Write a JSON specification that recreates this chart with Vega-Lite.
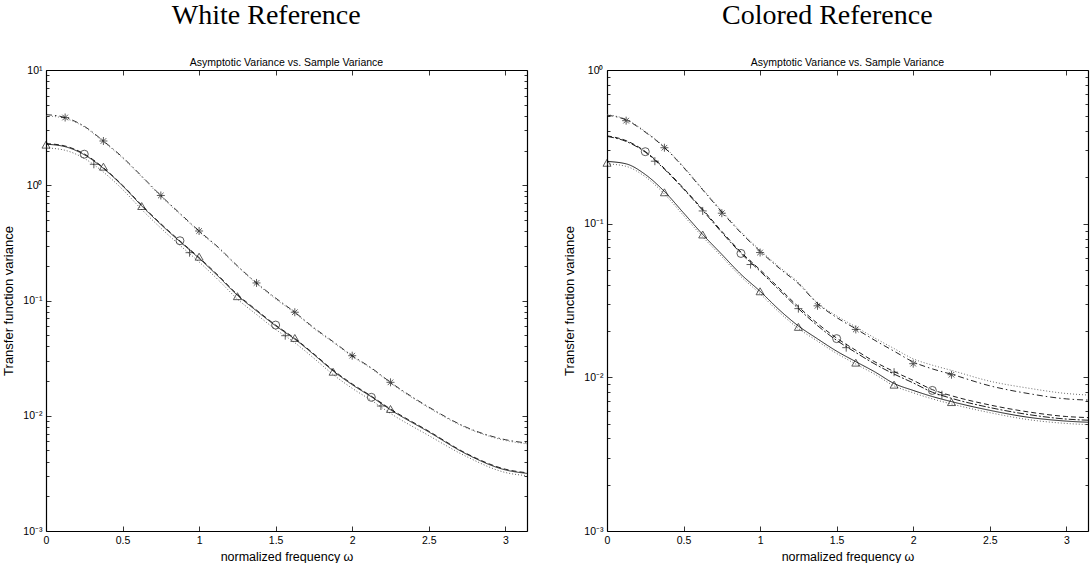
{
"$schema": "https://vega.github.io/schema/vega-lite/v6.json",
"padding": {"left": 2, "top": 1, "right": 0, "bottom": 0},
"background": "white",
"config": {
  "view": {"stroke": null},
  "axis": {"domainColor": "black", "tickColor": "black", "labelColor": "black", "titleColor": "black", "labelFont": "Liberation Sans", "titleFont": "Liberation Sans", "labelFontSize": 10.5, "titleFontSize": 12.5, "titleFontWeight": "normal", "grid": false, "domainWidth": 1.2, "tickWidth": 0.8, "labelFlush": false, "labelOverlap": false, "labelBound": false}
},
"datasets": {
"lines": [
{"p":"L","s":"LA","w":0,"v":4.1},{"p":"L","s":"LA","w":0.125,"v":3.87},{"p":"L","s":"LA","w":0.25,"v":3.25},{"p":"L","s":"LA","w":0.375,"v":2.42},{"p":"L","s":"LA","w":0.5,"v":1.75},{"p":"L","s":"LA","w":0.625,"v":1.2},{"p":"L","s":"LA","w":0.75,"v":0.815},{"p":"L","s":"LA","w":0.875,"v":0.57},{"p":"L","s":"LA","w":1,"v":0.401},{"p":"L","s":"LA","w":1.125,"v":0.29},{"p":"L","s":"LA","w":1.25,"v":0.2},{"p":"L","s":"LA","w":1.375,"v":0.142},{"p":"L","s":"LA","w":1.5,"v":0.105},{"p":"L","s":"LA","w":1.625,"v":0.0791},{"p":"L","s":"LA","w":1.75,"v":0.058},{"p":"L","s":"LA","w":1.875,"v":0.044},{"p":"L","s":"LA","w":2,"v":0.0332},{"p":"L","s":"LA","w":2.125,"v":0.026},{"p":"L","s":"LA","w":2.25,"v":0.0195},{"p":"L","s":"LA","w":2.5,"v":0.0119},{"p":"L","s":"LA","w":2.75,"v":0.0079},{"p":"L","s":"LA","w":3,"v":0.0062},{"p":"L","s":"LA","w":3.1416,"v":0.0058},
{"p":"L","s":"LA2","w":0,"v":4.0},{"p":"L","s":"LA2","w":0.125,"v":3.8},{"p":"L","s":"LA2","w":0.25,"v":3.2},{"p":"L","s":"LA2","w":0.375,"v":2.38},{"p":"L","s":"LA2","w":0.5,"v":1.72},{"p":"L","s":"LA2","w":0.625,"v":1.18},{"p":"L","s":"LA2","w":0.75,"v":0.8},{"p":"L","s":"LA2","w":0.875,"v":0.56},{"p":"L","s":"LA2","w":1,"v":0.394},{"p":"L","s":"LA2","w":1.125,"v":0.285},{"p":"L","s":"LA2","w":1.25,"v":0.197},{"p":"L","s":"LA2","w":1.375,"v":0.14},{"p":"L","s":"LA2","w":1.5,"v":0.103},{"p":"L","s":"LA2","w":1.625,"v":0.0778},{"p":"L","s":"LA2","w":1.75,"v":0.057},{"p":"L","s":"LA2","w":1.875,"v":0.0433},{"p":"L","s":"LA2","w":2,"v":0.0327},{"p":"L","s":"LA2","w":2.125,"v":0.0256},{"p":"L","s":"LA2","w":2.25,"v":0.0192},{"p":"L","s":"LA2","w":2.5,"v":0.0117},{"p":"L","s":"LA2","w":2.75,"v":0.0078},{"p":"L","s":"LA2","w":3,"v":0.0061},{"p":"L","s":"LA2","w":3.1416,"v":0.0057},
{"p":"L","s":"LB","w":0,"v":2.27},{"p":"L","s":"LB","w":0.125,"v":2.16},{"p":"L","s":"LB","w":0.25,"v":1.84},{"p":"L","s":"LB","w":0.375,"v":1.40},{"p":"L","s":"LB","w":0.5,"v":0.989},{"p":"L","s":"LB","w":0.625,"v":0.662},{"p":"L","s":"LB","w":0.75,"v":0.457},{"p":"L","s":"LB","w":0.875,"v":0.324},{"p":"L","s":"LB","w":1,"v":0.232},{"p":"L","s":"LB","w":1.125,"v":0.162},{"p":"L","s":"LB","w":1.25,"v":0.111},{"p":"L","s":"LB","w":1.375,"v":0.0813},{"p":"L","s":"LB","w":1.5,"v":0.0603},{"p":"L","s":"LB","w":1.625,"v":0.0462},{"p":"L","s":"LB","w":1.75,"v":0.0339},{"p":"L","s":"LB","w":1.875,"v":0.0245},{"p":"L","s":"LB","w":2,"v":0.0186},{"p":"L","s":"LB","w":2.125,"v":0.0146},{"p":"L","s":"LB","w":2.25,"v":0.01127},{"p":"L","s":"LB","w":2.5,"v":0.00724},{"p":"L","s":"LB","w":2.75,"v":0.00462},{"p":"L","s":"LB","w":3,"v":0.00339},{"p":"L","s":"LB","w":3.1416,"v":0.00316},
{"p":"L","s":"LC","w":0,"v":2.30},{"p":"L","s":"LC","w":0.125,"v":2.19},{"p":"L","s":"LC","w":0.25,"v":1.87},{"p":"L","s":"LC","w":0.375,"v":1.42},{"p":"L","s":"LC","w":0.5,"v":1.0},{"p":"L","s":"LC","w":0.625,"v":0.672},{"p":"L","s":"LC","w":0.75,"v":0.464},{"p":"L","s":"LC","w":0.875,"v":0.329},{"p":"L","s":"LC","w":1,"v":0.236},{"p":"L","s":"LC","w":1.125,"v":0.165},{"p":"L","s":"LC","w":1.25,"v":0.113},{"p":"L","s":"LC","w":1.375,"v":0.0826},{"p":"L","s":"LC","w":1.5,"v":0.0612},{"p":"L","s":"LC","w":1.625,"v":0.0469},{"p":"L","s":"LC","w":1.75,"v":0.0344},{"p":"L","s":"LC","w":1.875,"v":0.0249},{"p":"L","s":"LC","w":2,"v":0.0189},{"p":"L","s":"LC","w":2.125,"v":0.0148},{"p":"L","s":"LC","w":2.25,"v":0.01145},{"p":"L","s":"LC","w":2.5,"v":0.00735},{"p":"L","s":"LC","w":2.75,"v":0.00468},{"p":"L","s":"LC","w":3,"v":0.00344},{"p":"L","s":"LC","w":3.1416,"v":0.0032},
{"p":"L","s":"LD","w":0,"v":2.11},{"p":"L","s":"LD","w":0.125,"v":2.01},{"p":"L","s":"LD","w":0.25,"v":1.71},{"p":"L","s":"LD","w":0.375,"v":1.30},{"p":"L","s":"LD","w":0.5,"v":0.92},{"p":"L","s":"LD","w":0.625,"v":0.616},{"p":"L","s":"LD","w":0.75,"v":0.425},{"p":"L","s":"LD","w":0.875,"v":0.301},{"p":"L","s":"LD","w":1,"v":0.216},{"p":"L","s":"LD","w":1.125,"v":0.151},{"p":"L","s":"LD","w":1.25,"v":0.103},{"p":"L","s":"LD","w":1.375,"v":0.0756},{"p":"L","s":"LD","w":1.5,"v":0.0561},{"p":"L","s":"LD","w":1.625,"v":0.043},{"p":"L","s":"LD","w":1.75,"v":0.0315},{"p":"L","s":"LD","w":1.875,"v":0.0228},{"p":"L","s":"LD","w":2,"v":0.0173},{"p":"L","s":"LD","w":2.125,"v":0.0136},{"p":"L","s":"LD","w":2.25,"v":0.01048},{"p":"L","s":"LD","w":2.5,"v":0.00673},{"p":"L","s":"LD","w":2.75,"v":0.0044},{"p":"L","s":"LD","w":3,"v":0.00322},{"p":"L","s":"LD","w":3.1416,"v":0.00302},
{"p":"R","s":"RA","w":0,"v":0.509},{"p":"R","s":"RA","w":0.125,"v":0.473},{"p":"R","s":"RA","w":0.25,"v":0.394},{"p":"R","s":"RA","w":0.375,"v":0.313},{"p":"R","s":"RA","w":0.5,"v":0.232},{"p":"R","s":"RA","w":0.625,"v":0.166},{"p":"R","s":"RA","w":0.75,"v":0.119},{"p":"R","s":"RA","w":0.875,"v":0.0871},{"p":"R","s":"RA","w":1,"v":0.0661},{"p":"R","s":"RA","w":1.125,"v":0.0513},{"p":"R","s":"RA","w":1.25,"v":0.0407},{"p":"R","s":"RA","w":1.375,"v":0.0302},{"p":"R","s":"RA","w":1.5,"v":0.0245},{"p":"R","s":"RA","w":1.625,"v":0.0207},{"p":"R","s":"RA","w":1.75,"v":0.0174},{"p":"R","s":"RA","w":1.875,"v":0.0148},{"p":"R","s":"RA","w":2,"v":0.0126},{"p":"R","s":"RA","w":2.125,"v":0.01135},{"p":"R","s":"RA","w":2.25,"v":0.01047},{"p":"R","s":"RA","w":2.5,"v":0.00881},{"p":"R","s":"RA","w":2.75,"v":0.00785},{"p":"R","s":"RA","w":3,"v":0.00724},{"p":"R","s":"RA","w":3.1416,"v":0.00711},
{"p":"R","s":"RA2","w":0,"v":0.512},{"p":"R","s":"RA2","w":0.125,"v":0.477},{"p":"R","s":"RA2","w":0.25,"v":0.398},{"p":"R","s":"RA2","w":0.375,"v":0.316},{"p":"R","s":"RA2","w":0.5,"v":0.235},{"p":"R","s":"RA2","w":0.625,"v":0.168},{"p":"R","s":"RA2","w":0.75,"v":0.121},{"p":"R","s":"RA2","w":0.875,"v":0.0885},{"p":"R","s":"RA2","w":1,"v":0.0672},{"p":"R","s":"RA2","w":1.125,"v":0.0523},{"p":"R","s":"RA2","w":1.25,"v":0.0415},{"p":"R","s":"RA2","w":1.375,"v":0.0305},{"p":"R","s":"RA2","w":1.5,"v":0.0251},{"p":"R","s":"RA2","w":1.625,"v":0.0213},{"p":"R","s":"RA2","w":1.75,"v":0.018},{"p":"R","s":"RA2","w":1.875,"v":0.0154},{"p":"R","s":"RA2","w":2,"v":0.0132},{"p":"R","s":"RA2","w":2.125,"v":0.012},{"p":"R","s":"RA2","w":2.25,"v":0.0111},{"p":"R","s":"RA2","w":2.5,"v":0.00944},{"p":"R","s":"RA2","w":2.75,"v":0.00851},{"p":"R","s":"RA2","w":3,"v":0.00785},{"p":"R","s":"RA2","w":3.1416,"v":0.00767},
{"p":"R","s":"RC","w":0,"v":0.373},{"p":"R","s":"RC","w":0.125,"v":0.347},{"p":"R","s":"RC","w":0.25,"v":0.295},{"p":"R","s":"RC","w":0.375,"v":0.229},{"p":"R","s":"RC","w":0.5,"v":0.17},{"p":"R","s":"RC","w":0.625,"v":0.124},{"p":"R","s":"RC","w":0.75,"v":0.0891},{"p":"R","s":"RC","w":0.875,"v":0.0653},{"p":"R","s":"RC","w":1,"v":0.0501},{"p":"R","s":"RC","w":1.125,"v":0.038},{"p":"R","s":"RC","w":1.25,"v":0.0288},{"p":"R","s":"RC","w":1.375,"v":0.0224},{"p":"R","s":"RC","w":1.5,"v":0.018},{"p":"R","s":"RC","w":1.625,"v":0.015},{"p":"R","s":"RC","w":1.75,"v":0.0126},{"p":"R","s":"RC","w":1.875,"v":0.0109},{"p":"R","s":"RC","w":2,"v":0.00955},{"p":"R","s":"RC","w":2.125,"v":0.00832},{"p":"R","s":"RC","w":2.25,"v":0.00759},{"p":"R","s":"RC","w":2.5,"v":0.00661},{"p":"R","s":"RC","w":2.75,"v":0.00596},{"p":"R","s":"RC","w":3,"v":0.00556},{"p":"R","s":"RC","w":3.1416,"v":0.00547},
{"p":"R","s":"RC2","w":0,"v":0.37},{"p":"R","s":"RC2","w":0.125,"v":0.343},{"p":"R","s":"RC2","w":0.25,"v":0.292},{"p":"R","s":"RC2","w":0.375,"v":0.226},{"p":"R","s":"RC2","w":0.5,"v":0.168},{"p":"R","s":"RC2","w":0.625,"v":0.122},{"p":"R","s":"RC2","w":0.75,"v":0.0876},{"p":"R","s":"RC2","w":0.875,"v":0.0641},{"p":"R","s":"RC2","w":1,"v":0.049},{"p":"R","s":"RC2","w":1.125,"v":0.037},{"p":"R","s":"RC2","w":1.25,"v":0.028},{"p":"R","s":"RC2","w":1.375,"v":0.0217},{"p":"R","s":"RC2","w":1.5,"v":0.0174},{"p":"R","s":"RC2","w":1.625,"v":0.0145},{"p":"R","s":"RC2","w":1.75,"v":0.0122},{"p":"R","s":"RC2","w":1.875,"v":0.0105},{"p":"R","s":"RC2","w":2,"v":0.0092},{"p":"R","s":"RC2","w":2.125,"v":0.008},{"p":"R","s":"RC2","w":2.25,"v":0.0073},{"p":"R","s":"RC2","w":2.5,"v":0.00636},{"p":"R","s":"RC2","w":2.75,"v":0.00573},{"p":"R","s":"RC2","w":3,"v":0.00535},{"p":"R","s":"RC2","w":3.1416,"v":0.00526},
{"p":"R","s":"RB","w":0,"v":0.254},{"p":"R","s":"RB","w":0.125,"v":0.245},{"p":"R","s":"RB","w":0.25,"v":0.209},{"p":"R","s":"RB","w":0.375,"v":0.162},{"p":"R","s":"RB","w":0.5,"v":0.1175},{"p":"R","s":"RB","w":0.625,"v":0.0851},{"p":"R","s":"RB","w":0.75,"v":0.0631},{"p":"R","s":"RB","w":0.875,"v":0.0468},{"p":"R","s":"RB","w":1,"v":0.0363},{"p":"R","s":"RB","w":1.125,"v":0.0275},{"p":"R","s":"RB","w":1.25,"v":0.0216},{"p":"R","s":"RB","w":1.375,"v":0.0178},{"p":"R","s":"RB","w":1.5,"v":0.0148},{"p":"R","s":"RB","w":1.625,"v":0.01265},{"p":"R","s":"RB","w":1.75,"v":0.01084},{"p":"R","s":"RB","w":1.875,"v":0.00912},{"p":"R","s":"RB","w":2,"v":0.00822},{"p":"R","s":"RB","w":2.125,"v":0.0075},{"p":"R","s":"RB","w":2.25,"v":0.00695},{"p":"R","s":"RB","w":2.5,"v":0.0061},{"p":"R","s":"RB","w":2.75,"v":0.0055},{"p":"R","s":"RB","w":3,"v":0.00519},{"p":"R","s":"RB","w":3.1416,"v":0.0051},
{"p":"R","s":"RD","w":0,"v":0.245},{"p":"R","s":"RD","w":0.125,"v":0.236},{"p":"R","s":"RD","w":0.25,"v":0.202},{"p":"R","s":"RD","w":0.375,"v":0.156},{"p":"R","s":"RD","w":0.5,"v":0.113},{"p":"R","s":"RD","w":0.625,"v":0.0821},{"p":"R","s":"RD","w":0.75,"v":0.0609},{"p":"R","s":"RD","w":0.875,"v":0.0452},{"p":"R","s":"RD","w":1,"v":0.035},{"p":"R","s":"RD","w":1.125,"v":0.0265},{"p":"R","s":"RD","w":1.25,"v":0.0208},{"p":"R","s":"RD","w":1.375,"v":0.0172},{"p":"R","s":"RD","w":1.5,"v":0.0143},{"p":"R","s":"RD","w":1.625,"v":0.0122},{"p":"R","s":"RD","w":1.75,"v":0.01046},{"p":"R","s":"RD","w":1.875,"v":0.0088},{"p":"R","s":"RD","w":2,"v":0.00793},{"p":"R","s":"RD","w":2.125,"v":0.00724},{"p":"R","s":"RD","w":2.25,"v":0.00671},{"p":"R","s":"RD","w":2.5,"v":0.00589},{"p":"R","s":"RD","w":2.75,"v":0.00531},{"p":"R","s":"RD","w":3,"v":0.00501},{"p":"R","s":"RD","w":3.1416,"v":0.00492}
],
"marks": [
{"p":"L","m":"star","w":0.125,"v":3.87},{"p":"L","m":"star","w":0.375,"v":2.42},{"p":"L","m":"star","w":0.75,"v":0.815},{"p":"L","m":"star","w":1,"v":0.401},{"p":"L","m":"star","w":1.375,"v":0.142},{"p":"L","m":"star","w":1.625,"v":0.0791},{"p":"L","m":"star","w":2,"v":0.0332},{"p":"L","m":"star","w":2.25,"v":0.0195},
{"p":"L","m":"tri","w":0,"v":2.25},{"p":"L","m":"tri","w":0.375,"v":1.45},{"p":"L","m":"tri","w":0.625,"v":0.66},{"p":"L","m":"tri","w":1,"v":0.24},{"p":"L","m":"tri","w":1.25,"v":0.109},{"p":"L","m":"tri","w":1.625,"v":0.0473},{"p":"L","m":"tri","w":1.875,"v":0.0241},{"p":"L","m":"tri","w":2.25,"v":0.01145},
{"p":"L","m":"circ","w":0.25,"v":1.86},{"p":"L","m":"circ","w":0.875,"v":0.33},{"p":"L","m":"circ","w":1.5,"v":0.0612},{"p":"L","m":"circ","w":2.125,"v":0.01445},
{"p":"L","m":"plus","w":0.3125,"v":1.52},{"p":"L","m":"plus","w":0.9375,"v":0.26},{"p":"L","m":"plus","w":1.5625,"v":0.0495},{"p":"L","m":"plus","w":2.1875,"v":0.01215},
{"p":"R","m":"star","w":0.125,"v":0.468},{"p":"R","m":"star","w":0.375,"v":0.312},{"p":"R","m":"star","w":0.75,"v":0.117},{"p":"R","m":"star","w":1,"v":0.0649},{"p":"R","m":"star","w":1.375,"v":0.0292},{"p":"R","m":"star","w":1.625,"v":0.0205},{"p":"R","m":"star","w":2,"v":0.01227},{"p":"R","m":"star","w":2.25,"v":0.0104},
{"p":"R","m":"circ","w":0.25,"v":0.294},{"p":"R","m":"circ","w":0.875,"v":0.064},{"p":"R","m":"circ","w":1.5,"v":0.01786},{"p":"R","m":"circ","w":2.125,"v":0.00822},
{"p":"R","m":"plus","w":0.3125,"v":0.255},{"p":"R","m":"plus","w":0.625,"v":0.121},{"p":"R","m":"plus","w":0.9375,"v":0.0542},{"p":"R","m":"plus","w":1.25,"v":0.028},{"p":"R","m":"plus","w":1.5625,"v":0.0156},{"p":"R","m":"plus","w":1.875,"v":0.0108},{"p":"R","m":"plus","w":2.1875,"v":0.0077},
{"p":"R","m":"tri","w":0,"v":0.249},{"p":"R","m":"tri","w":0.375,"v":0.16},{"p":"R","m":"tri","w":0.625,"v":0.085},{"p":"R","m":"tri","w":1,"v":0.0363},{"p":"R","m":"tri","w":1.25,"v":0.0213},{"p":"R","m":"tri","w":1.625,"v":0.01246},{"p":"R","m":"tri","w":1.875,"v":0.00896},{"p":"R","m":"tri","w":2.25,"v":0.0069}
]
},
"spacing": 33,
"hconcat": [
{
 "title": {"text": "White Reference", "font": "Liberation Serif", "fontSize": 28, "fontWeight": "normal", "frame": "bounds", "anchor": "middle", "offset": 28, "color": "black"},
 "vconcat": [{
  "title": {"text": "Asymptotic Variance vs. Sample Variance", "font": "Liberation Sans", "fontSize": 10.5, "fontWeight": "normal", "frame": "group", "anchor": "middle", "offset": -3, "color": "black"},
  "width": 481, "height": 461,
  "resolve": {"axis": {"x": "independent", "y": "independent"}},
  "layer": [
   {"data": {"name": "lines"}, "transform": [{"filter": "datum.p == 'L'"}],
    "mark": {"type": "line", "interpolate": "monotone"},
    "encoding": {
     "x": {"field": "w", "type": "quantitative", "scale": {"domain": [0, 3.1416], "nice": false, "zero": false}, "axis": {"orient": "bottom", "values": [0, 0.5, 1, 1.5, 2, 2.5, 3], "format": "~g", "tickSize": -5, "labelPadding": 9, "title": "normalized frequency ω", "titlePadding": 5}},
     "y": {"field": "v", "type": "quantitative", "scale": {"type": "log", "domain": [0.001, 10], "nice": false}, "axis": {"orient": "left", "values": [0.001, 0.01, 0.1, 1, 10], "tickSize": -5, "labelPadding": 9, "labelExpr": "datum.value >= 5 ? '10¹' : datum.value >= 0.5 ? '10⁰' : datum.value >= 0.05 ? '10⁻¹' : datum.value >= 0.005 ? '10⁻²' : '10⁻³'", "title": "Transfer function variance", "titleFontSize": 13, "titlePadding": 7}},
     "detail": {"field": "s"},
     "strokeDash": {"field": "s", "legend": null, "scale": {"domain": ["LA","LA2","LB","LC","LD","RA","RA2","RB","RC","RC2","RD"], "range": [[6,3,1.5,3],[1,2],[1,0],[5,3],[1,2],[6,3,1.5,3],[1,2],[1,0],[5,3],[7,2,2,2],[1,2]]}},
     "color": {"field": "s", "legend": null, "scale": {"domain": ["LA","LA2","LB","LC","LD","RA","RA2","RB","RC","RC2","RD"], "range": ["#000","#666","#000","#000","#444","#000","#555","#000","#000","#000","#555"]}},
     "strokeWidth": {"field": "s", "legend": null, "scale": {"domain": ["LA","LA2","LB","LC","LD","RA","RA2","RB","RC","RC2","RD"], "range": [0.8,0.9,1.4,0.9,1,0.8,0.9,0.8,0.9,0.8,0.9]}}
    }},
   {"data": {"name": "lines"}, "transform": [{"filter": "datum.p == 'L'"}],
    "mark": {"type": "point", "opacity": 0},
    "encoding": {
     "x": {"field": "w", "type": "quantitative", "scale": {"domain": [0, 3.1416], "nice": false, "zero": false}, "axis": {"orient": "top", "values": [0, 0.5, 1, 1.5, 2, 2.5, 3], "tickSize": -5, "labels": false, "title": null}},
     "y": {"field": "v", "type": "quantitative", "scale": {"type": "log", "domain": [0.001, 10], "nice": false}, "axis": {"orient": "right", "values": [0.001, 0.01, 0.1, 1, 10], "tickSize": -5, "labels": false, "title": null}}
    }},
   {"data": {"name": "lines"}, "transform": [{"filter": "datum.p == 'L'"}],
    "mark": {"type": "point", "opacity": 0},
    "encoding": {
     "x": {"field": "w", "type": "quantitative", "scale": {"domain": [0, 3.1416], "nice": false, "zero": false}, "axis": null},
     "y": {"field": "v", "type": "quantitative", "scale": {"type": "log", "domain": [0.001, 10], "nice": false}, "axis": {"orient": "left", "values": [0.002,0.003,0.004,0.005,0.006,0.007,0.008,0.009,0.02,0.03,0.04,0.05,0.06,0.07,0.08,0.09,0.2,0.3,0.4,0.5,0.6,0.7,0.8,0.9,2,3,4,5,6,7,8,9], "tickSize": -3, "labels": false, "domain": false, "title": null}}
    }},
   {"data": {"name": "lines"}, "transform": [{"filter": "datum.p == 'L'"}],
    "mark": {"type": "point", "opacity": 0},
    "encoding": {
     "x": {"field": "w", "type": "quantitative", "scale": {"domain": [0, 3.1416], "nice": false, "zero": false}, "axis": null},
     "y": {"field": "v", "type": "quantitative", "scale": {"type": "log", "domain": [0.001, 10], "nice": false}, "axis": {"orient": "right", "values": [0.002,0.003,0.004,0.005,0.006,0.007,0.008,0.009,0.02,0.03,0.04,0.05,0.06,0.07,0.08,0.09,0.2,0.3,0.4,0.5,0.6,0.7,0.8,0.9,2,3,4,5,6,7,8,9], "tickSize": -3, "labels": false, "domain": false, "title": null}}
    }},
   {"data": {"name": "marks"}, "transform": [{"filter": "datum.p == 'L'"}],
    "mark": {"type": "point", "filled": false, "color": "black", "strokeWidth": 0.9, "size": 64},
    "encoding": {
     "x": {"field": "w", "type": "quantitative", "scale": {"domain": [0, 3.1416], "nice": false, "zero": false}, "axis": null},
     "y": {"field": "v", "type": "quantitative", "scale": {"type": "log", "domain": [0.001, 10], "nice": false}, "axis": null},
     "shape": {"field": "m", "legend": null, "scale": {"domain": ["tri","circ","plus","star"], "range": ["triangle-up","circle","M-1,0L1,0M0,-1L0,1","M-1,0L1,0M0,-1L0,1M-0.7,-0.7L0.7,0.7M-0.7,0.7L0.7,-0.7"]}}
    }}
  ]
 }]
},
{
 "title": {"text": "Colored Reference", "font": "Liberation Serif", "fontSize": 28, "fontWeight": "normal", "frame": "bounds", "anchor": "middle", "offset": 28, "color": "black"},
 "vconcat": [{
  "title": {"text": "Asymptotic Variance vs. Sample Variance", "font": "Liberation Sans", "fontSize": 10.5, "fontWeight": "normal", "frame": "group", "anchor": "middle", "offset": -3, "color": "black"},
  "width": 481, "height": 461,
  "resolve": {"axis": {"x": "independent", "y": "independent"}},
  "layer": [
   {"data": {"name": "lines"}, "transform": [{"filter": "datum.p == 'R'"}],
    "mark": {"type": "line", "interpolate": "monotone"},
    "encoding": {
     "x": {"field": "w", "type": "quantitative", "scale": {"domain": [0, 3.1416], "nice": false, "zero": false}, "axis": {"orient": "bottom", "values": [0, 0.5, 1, 1.5, 2, 2.5, 3], "format": "~g", "tickSize": -5, "labelPadding": 9, "title": "normalized frequency ω", "titlePadding": 5}},
     "y": {"field": "v", "type": "quantitative", "scale": {"type": "log", "domain": [0.001, 1], "nice": false}, "axis": {"orient": "left", "values": [0.001, 0.01, 0.1, 1], "tickSize": -5, "labelPadding": 9, "labelExpr": "datum.value >= 0.5 ? '10⁰' : datum.value >= 0.05 ? '10⁻¹' : datum.value >= 0.005 ? '10⁻²' : '10⁻³'", "title": "Transfer function variance", "titleFontSize": 13, "titlePadding": 7}},
     "detail": {"field": "s"},
     "strokeDash": {"field": "s", "legend": null, "scale": {"domain": ["LA","LA2","LB","LC","LD","RA","RA2","RB","RC","RC2","RD"], "range": [[6,3,1.5,3],[1,2],[1,0],[5,3],[1,2],[6,3,1.5,3],[1,2],[1,0],[5,3],[7,2,2,2],[1,2]]}},
     "color": {"field": "s", "legend": null, "scale": {"domain": ["LA","LA2","LB","LC","LD","RA","RA2","RB","RC","RC2","RD"], "range": ["#000","#666","#000","#000","#444","#000","#555","#000","#000","#000","#555"]}},
     "strokeWidth": {"field": "s", "legend": null, "scale": {"domain": ["LA","LA2","LB","LC","LD","RA","RA2","RB","RC","RC2","RD"], "range": [0.8,0.9,1.4,0.9,1,0.8,0.9,0.8,0.9,0.8,0.9]}}
    }},
   {"data": {"name": "lines"}, "transform": [{"filter": "datum.p == 'R'"}],
    "mark": {"type": "point", "opacity": 0},
    "encoding": {
     "x": {"field": "w", "type": "quantitative", "scale": {"domain": [0, 3.1416], "nice": false, "zero": false}, "axis": {"orient": "top", "values": [0, 0.5, 1, 1.5, 2, 2.5, 3], "tickSize": -5, "labels": false, "title": null}},
     "y": {"field": "v", "type": "quantitative", "scale": {"type": "log", "domain": [0.001, 1], "nice": false}, "axis": {"orient": "right", "values": [0.001, 0.01, 0.1, 1], "tickSize": -5, "labels": false, "title": null}}
    }},
   {"data": {"name": "lines"}, "transform": [{"filter": "datum.p == 'R'"}],
    "mark": {"type": "point", "opacity": 0},
    "encoding": {
     "x": {"field": "w", "type": "quantitative", "scale": {"domain": [0, 3.1416], "nice": false, "zero": false}, "axis": null},
     "y": {"field": "v", "type": "quantitative", "scale": {"type": "log", "domain": [0.001, 1], "nice": false}, "axis": {"orient": "left", "values": [0.002,0.003,0.004,0.005,0.006,0.007,0.008,0.009,0.02,0.03,0.04,0.05,0.06,0.07,0.08,0.09,0.2,0.3,0.4,0.5,0.6,0.7,0.8,0.9], "tickSize": -3, "labels": false, "domain": false, "title": null}}
    }},
   {"data": {"name": "lines"}, "transform": [{"filter": "datum.p == 'R'"}],
    "mark": {"type": "point", "opacity": 0},
    "encoding": {
     "x": {"field": "w", "type": "quantitative", "scale": {"domain": [0, 3.1416], "nice": false, "zero": false}, "axis": null},
     "y": {"field": "v", "type": "quantitative", "scale": {"type": "log", "domain": [0.001, 1], "nice": false}, "axis": {"orient": "right", "values": [0.002,0.003,0.004,0.005,0.006,0.007,0.008,0.009,0.02,0.03,0.04,0.05,0.06,0.07,0.08,0.09,0.2,0.3,0.4,0.5,0.6,0.7,0.8,0.9], "tickSize": -3, "labels": false, "domain": false, "title": null}}
    }},
   {"data": {"name": "marks"}, "transform": [{"filter": "datum.p == 'R'"}],
    "mark": {"type": "point", "filled": false, "color": "black", "strokeWidth": 0.9, "size": 64},
    "encoding": {
     "x": {"field": "w", "type": "quantitative", "scale": {"domain": [0, 3.1416], "nice": false, "zero": false}, "axis": null},
     "y": {"field": "v", "type": "quantitative", "scale": {"type": "log", "domain": [0.001, 1], "nice": false}, "axis": null},
     "shape": {"field": "m", "legend": null, "scale": {"domain": ["tri","circ","plus","star"], "range": ["triangle-up","circle","M-1,0L1,0M0,-1L0,1","M-1,0L1,0M0,-1L0,1M-0.7,-0.7L0.7,0.7M-0.7,0.7L0.7,-0.7"]}}
    }}
  ]
 }]
}
]
}
